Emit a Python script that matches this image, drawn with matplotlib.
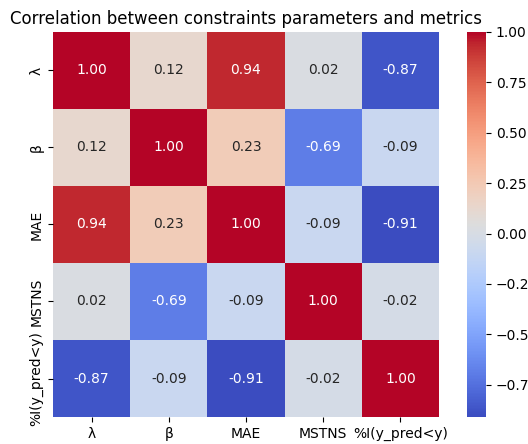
import numpy as np
import matplotlib
matplotlib.use("Agg")
import matplotlib.pyplot as plt
import seaborn as sns

labels = ["λ", "β", "MAE", "MSTNS", "%I(y_pred<y)"]

row_lambda = [1.00, 0.12, 0.94, 0.02, -0.87]
row_beta = [0.12, 1.00, 0.23, -0.69, -0.09]
row_mae = [0.94, 0.23, 1.00, -0.09, -0.91]
row_mstns = [0.02, -0.69, -0.09, 1.00, -0.02]
row_pct = [-0.87, -0.09, -0.91, -0.02, 1.00]

corr = np.array([row_lambda, row_beta, row_mae, row_mstns, row_pct])

fig = plt.figure(figsize=(5.28, 4.44), dpi=100)
ax = fig.add_axes([0.1004, 0.0608, 0.731, 0.8672])
cax = fig.add_axes([0.8845, 0.0608, 0.036, 0.8672])

sns.heatmap(corr, annot=True, fmt=".2f", cmap="coolwarm",
            xticklabels=labels, yticklabels=labels,
            ax=ax, cbar_ax=cax, annot_kws={"size": 10})

ax.set_title("Correlation between constraints parameters and metrics", fontsize=12)

fig.savefig("out.png", dpi=100)
